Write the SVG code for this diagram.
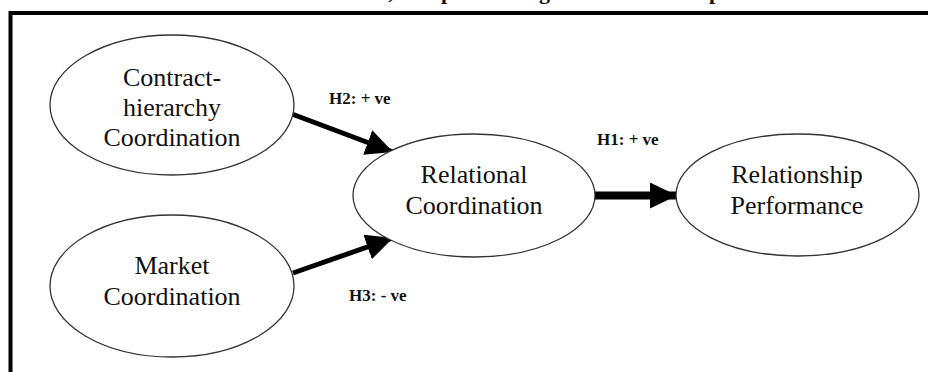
<svg xmlns="http://www.w3.org/2000/svg" width="928" height="372" viewBox="0 0 928 372">
<style>
.node ellipse{fill:#fff;stroke:#333;stroke-width:1.3}
.lbl{font-family:"Liberation Serif","DejaVu Serif",serif;font-size:26px;fill:#111;text-anchor:middle}
.hyp{font-family:"Liberation Serif","DejaVu Serif",serif;font-size:17px;font-weight:bold;fill:#111}
.edge{stroke:#000;fill:none}
.title{font-family:"Liberation Serif","DejaVu Serif",serif;font-size:22px;font-weight:bold;fill:#111}
</style>
<defs>
<marker id="ah" markerUnits="userSpaceOnUse" viewBox="0 0 27 26" refX="27" refY="13" markerWidth="27" markerHeight="26" orient="auto">
<path d="M0 0 L27 13 L0 26 Z" fill="#000"/>
</marker>
</defs>
<rect width="928" height="372" fill="#fff"/>
<text class="title" y="-1"><tspan x="388">,</tspan><tspan x="441">p</tspan><tspan x="539">g</tspan><tspan x="709">p</tspan></text>
<path d="M10.5 372 V13 H928" fill="none" stroke="#000" stroke-width="4"/>
<g id="connectors">
<line class="edge" x1="292" y1="114" x2="393" y2="152" stroke-width="5" marker-end="url(#ah)"/>
<line class="edge" x1="293" y1="273" x2="393" y2="238" stroke-width="5" marker-end="url(#ah)"/>
<line class="edge" x1="595" y1="195.5" x2="677" y2="195.5" stroke-width="8" marker-end="url(#ah)"/>
<text class="hyp" x="329" y="104">H2: + ve</text>
<text class="hyp" x="597" y="145">H1: + ve</text>
<text class="hyp" x="349" y="301">H3: - ve</text>
</g>
<g id="contract" class="node">
<ellipse cx="172" cy="105" rx="122" ry="70"/>
<text class="lbl" x="172" y="86">Contract-</text>
<text class="lbl" x="172" y="116">hierarchy</text>
<text class="lbl" x="172" y="146">Coordination</text>
</g>
<g id="market" class="node">
<ellipse cx="172" cy="286" rx="122" ry="71"/>
<text class="lbl" x="172" y="274">Market</text>
<text class="lbl" x="172" y="305">Coordination</text>
</g>
<g id="relational" class="node">
<ellipse cx="474" cy="195.5" rx="121" ry="61.5"/>
<text class="lbl" x="474" y="183">Relational</text>
<text class="lbl" x="474" y="214">Coordination</text>
</g>
<g id="performance" class="node">
<ellipse cx="797.5" cy="195" rx="121.5" ry="61"/>
<text class="lbl" x="797" y="183">Relationship</text>
<text class="lbl" x="797" y="214">Performance</text>
</g>
</svg>
